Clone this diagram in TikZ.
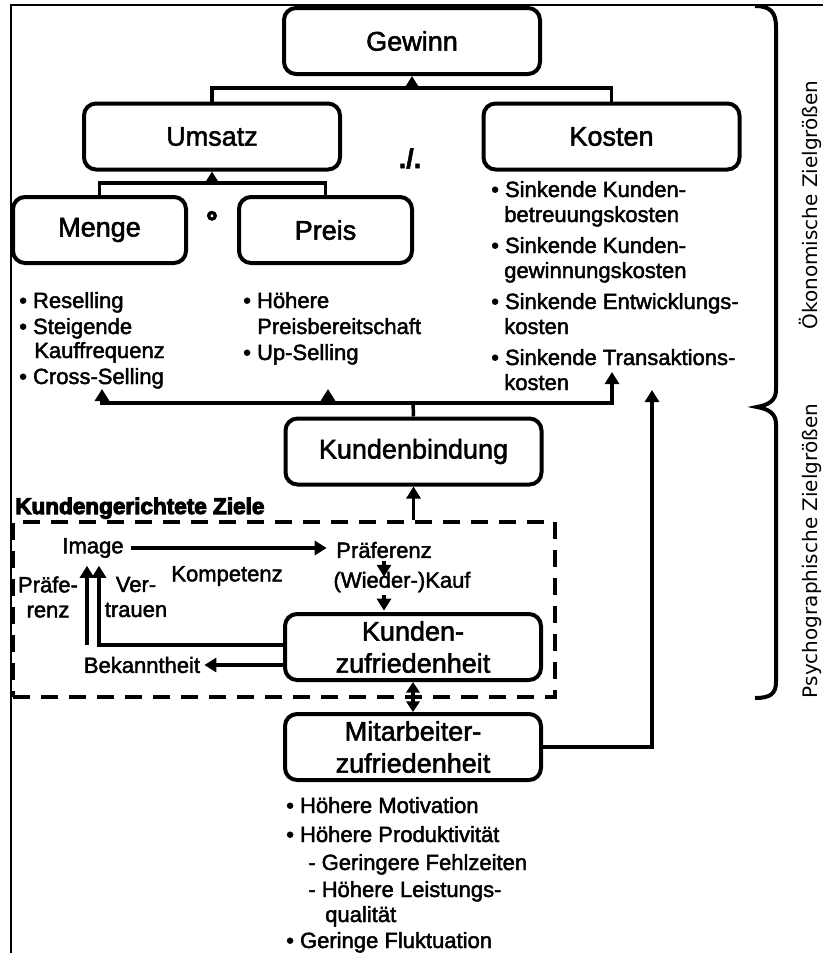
\documentclass[tikz,border=0pt]{standalone}
\usepackage{fontspec}
\setmainfont{Liberation Sans}[FakeBold=2]
\newfontfamily\heavyfont{Liberation Sans}[BoldFeatures={FakeBold=4.5}]
\newfontfamily\rotfont{DejaVu Sans}
\usetikzlibrary{arrows.meta,calc,fit}
\newcommand\boxfnt{\fontsize{20.25pt}{24pt}\selectfont}
\newcommand\lstfnt{\fontsize{16.5pt}{18.75pt}\selectfont}
\begin{document}
\begin{tikzpicture}[x=0.75pt,y=-0.75pt,
  box/.style={draw, line width=3pt, rounded corners=9pt, minimum width=192pt,
    minimum height=49.5pt, inner sep=0pt, align=center, font=\boxfnt},
  sbox/.style={box, minimum width=129.75pt},
  conn/.style={line width=2.6pt},
  arr/.style={conn, -{Triangle[length=9pt,width=10.5pt]}},
  darr/.style={conn, {Triangle[length=8pt,width=10pt]}-{Triangle[length=8pt,width=10pt]}},
  lbl/.style={inner sep=2pt, font=\lstfnt, align=center},
  lst/.style={anchor=base west, inner sep=0pt, font=\lstfnt},
  dbox/.style={draw, line width=3pt, dash pattern=on 12.75pt off 8.25pt, inner sep=0pt},
  rot/.style={rotate=90, anchor=base, inner sep=0pt, font=\rotfont\fontsize{15pt}{18pt}\selectfont}]
\useasboundingbox (0,0) rectangle (823,953);

% frame
\draw[line width=1.6pt] (11,953) -- (11,5) -- (823,5);

% brace
\draw[line width=3pt] (755,6) .. controls (770,6) and (776,12) .. (776,27)
  -- (776,390) .. controls (776,401) and (768,405) .. (757,407)
  .. controls (768,409) and (776,413) .. (776,424)
  -- (776,682) .. controls (776,694) and (770,698) .. (755,698);
\node[rot] (oek) at (817,205) {Ökonomische Zielgrößen};
\node[rot] (psy) at (817,551) {Psychographische Zielgrößen};

% boxes
\node[box] (gewinn) at (412,41) {Gewinn};
\node[box] (umsatz) at (212,136.5) {Umsatz};
\node[box] (kosten) at (611.5,136.5) {Kosten};
\node[sbox] (menge) at (99.5,230) {Menge};
\node[sbox] (preis) at (325.5,230) {Preis};
\node[box] (kb) at (413.5,451.5) {Kundenbindung};
\node[box] (kz) at (413,647) {Kunden-\\zufriedenheit};
\node[box] (mz) at (413,747) {Mitarbeiter-\\zufriedenheit};

\node[font=\boxfnt\bfseries, anchor=base, inner sep=0pt] (minus) at (410,168) {./.};
\node[font=\heavyfont\bfseries\fontsize{21pt}{24pt}\selectfont, anchor=base, inner sep=0pt] (times) at (212,231) {°};

% connectors top
\coordinate (gbar) at (412,88);
\draw[conn] (umsatz.north) |- (gbar) -| (kosten.north);
\draw[arr] (gbar) -- (gewinn.south);
\coordinate (ubar) at (212,183);
\draw[conn] (menge.north) |- (ubar) -| (preis.north);
\draw[arr] (ubar) -- (umsatz.south);

% lists
\node[lst] (m1) at (19,308) {• Reselling};
\node[lst] (m2) at (19,334) {• Steigende};
\node[lst] (m3) at (34,358) {Kauffrequenz};
\node[lst] (m4) at (19,384) {• Cross-Selling};
\node[lst] (p1) at (243,308) {• Höhere};
\node[lst] (p2) at (257,334) {Preisbereitschaft};
\node[lst] (p3) at (243,360) {• Up-Selling};
\node[lst] (k1) at (491,197) {• Sinkende Kunden-};
\node[lst] (k2) at (504,222) {betreuungskosten};
\node[lst] (k3) at (491,253) {• Sinkende Kunden-};
\node[lst] (k4) at (504,278) {gewinnungskosten};
\node[lst] (k5) at (491,309) {• Sinkende Entwicklungs-};
\node[lst] (k6) at (504,334) {kosten};
\node[lst] (k7) at (491,365) {• Sinkende Transaktions-};
\node[lst] (k8) at (504,390) {kosten};
\node[lst] (a1) at (286,813) {• Höhere Motivation};
\node[lst] (a2) at (286,842) {• Höhere Produktivität};
\node[lst] (a3) at (308,870) {- Geringere Fehlzeiten};
\node[lst] (a4) at (308,897) {- Höhere Leistungs-};
\node[lst] (a5) at (325,922) {qualität};
\node[lst] (a6) at (286,948) {• Geringe Fluktuation};

% Kundenbindung connectors
\coordinate (kbar) at (413,403);
\coordinate (tM) at (102,389);
\coordinate (tP) at (328,389);
\coordinate (tK) at (612,372);
\coordinate (tT) at (652,390);
\draw[conn] (kb.north) -- (kbar);
\draw[arr] (kbar) -| (tM);
\draw[arr] (kbar) -| (tK);
\draw[arr] (tP |- kbar) -- (tP);
\draw[arr] (mz.east) -| (tT);

% dashed box
\node[dbox, fit={(13,522) (555,697)}] (dbox) {};
\node[anchor=base west, inner sep=0pt, font=\heavyfont\bfseries\fontsize{16.9pt}{20pt}\selectfont] (kgz) at (15,514) {Kundengerichtete Ziele};
\draw[arr] (dbox.north -| kb.south) -- (kb.south);

\node[lbl] (image) at (93,548) {Image};
\node[lbl] (praef) at (384,550) {Präferenz};
\node[lbl] (kauf) at (402,582) {(Wieder-)Kauf};
\node[lbl] (komp) at (227,576) {Kompetenz};
\node[lbl] (pr1) at (48,597) {Präfe-\\renz};
\node[lbl] (vt) at (136,597) {Ver-\\trauen};
\node[lbl] (bek) at (142,665) {Bekanntheit};

\draw[arr, shorten <=3pt, shorten >=5pt] (image.east) -- (image.east -| praef.west);
\coordinate (kaufT) at ($(praef.south |- kauf.north)+(0,8)$);
\draw[arr] (praef.south) -- (kaufT);
\draw[arr, shorten >=1pt] (praef.south |- kauf.south) -- (praef.south |- kz.north);
\coordinate (imL) at ($(image.south)+(-6,5)$);
\coordinate (imR) at ($(image.south)+(6,5)$);
\coordinate (bekTop) at ($(bek.north)+(0,-9)$);
\draw[arr] (imL |- bekTop) -- (imL);
\draw[arr] ($(kz.west)+(0,-2)$) -| (imR);
\draw[arr, shorten >=1pt] (kz.west |- bek.east) -- (bek.east);
\draw[darr] (kz.south) -- (mz.north);
\end{tikzpicture}
\end{document}
